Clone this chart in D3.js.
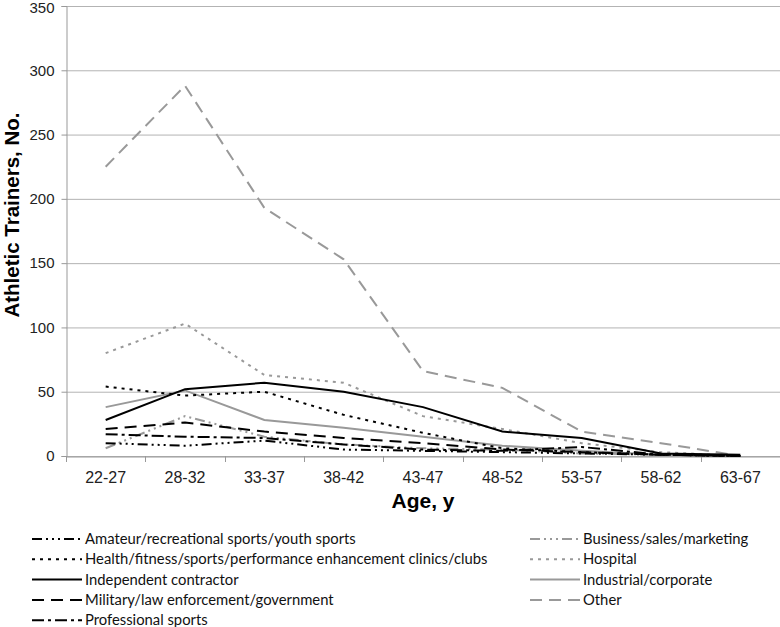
<!DOCTYPE html>
<html><head><meta charset="utf-8">
<script src="https://cdn.jsdelivr.net/npm/d3@7"></script>
<style>
body{margin:0;background:#fff;}
svg{display:block;}
</style></head>
<body>
<svg id="chart" width="780" height="627"></svg>
<script>
const ages = ["22-27","28-32","33-37","38-42","43-47","48-52","53-57","58-62","63-67"];
const yTicks = [0,50,100,150,200,250,300,350];
const amateur      = [10, 8, 12, 5, 4, 3, 2, 1, 0];
const business     = [6, 31, 15, 9, 6, 5, 2, 1, 0];
const health       = [54, 47, 50, 32, 18, 6, 3, 1, 0];
const hospital     = [80, 103, 63, 57, 31, 21, 10, 3, 0];
const independent  = [28, 52, 57, 50, 38, 19, 14, 2, 1];
const industrial   = [38, 51, 28, 22, 15, 8, 4, 1, 0];
const military     = [21, 26, 19, 14, 10, 5, 3, 1, 0];
const other        = [225, 288, 193, 153, 66, 53, 19, 10, 0];
const professional = [17, 15, 14, 9, 5, 4, 7, 1, 0];

const seriesNames = ["Amateur/recreational sports/youth sports","Business/sales/marketing",
  "Health/fitness/sports/performance enhancement clinics/clubs","Hospital",
  "Independent contractor","Industrial/corporate",
  "Military/law enforcement/government","Other","Professional sports"];
const seriesValues = [amateur,business,health,hospital,independent,industrial,military,other,professional];
const BLACK="#000", GRAY="#999";
const styles = [
  {c:BLACK, d:"10,4,2,4,2,4,2,4"},
  {c:GRAY,  d:"10,4,2,4,2,4,2,4"},
  {c:BLACK, d:"3,5"},
  {c:GRAY,  d:"3,5"},
  {c:BLACK, d:null},
  {c:GRAY,  d:null},
  {c:BLACK, d:"12,7"},
  {c:GRAY,  d:"12,7"},
  {c:BLACK, d:"12,4,3,4"}
];

const svg = d3.select("#chart");
const L=66, R=780, T=6, B=456;
const FONT="'Liberation Sans',Arial,sans-serif";
const x = d3.scaleBand().domain(ages).range([L,R]).padding(0);
const y = d3.scaleLinear().domain([0,350]).range([B,T]);

// gridlines
svg.append("g").selectAll("line").data(yTicks).join("line")
  .attr("x1",L).attr("x2",R).attr("y1",d=>y(d)+0.5).attr("y2",d=>y(d)+0.5)
  .attr("stroke","#b3b3b3").attr("stroke-width",1);

// y axis
const yAxis = svg.append("g").attr("transform",`translate(${L+0.5},0)`)
  .call(d3.axisLeft(y).tickValues(yTicks).tickSize(5).tickPadding(7));
yAxis.select(".domain").attr("stroke","#999");
yAxis.selectAll(".tick line").attr("stroke","#999");
yAxis.selectAll("text").attr("font-family",FONT).attr("font-size",15).attr("fill","#222")
  .attr("dy",(d)=> d===350 ? "0.42em" : "0.32em");

// x axis
const xAxis = svg.append("g").attr("transform",`translate(0,${B+0.5})`)
  .call(d3.axisBottom(x).tickSize(0).tickPadding(15));
xAxis.select(".domain").attr("stroke","#999");
xAxis.selectAll("text").attr("font-family",FONT).attr("font-size",16).attr("fill","#222");
// tick marks at band boundaries
const bounds = ages.map(a=>x(a)).concat([R]);
svg.append("g").selectAll("line").data(bounds).join("line")
  .attr("x1",d=>Math.round(d)+0.5).attr("x2",d=>Math.round(d)+0.5)
  .attr("y1",B).attr("y2",B+6).attr("stroke","#999");

// axis titles
svg.append("text").attr("transform",`translate(19,215) rotate(-90)`)
  .attr("text-anchor","middle").attr("font-family",FONT)
  .attr("font-weight","bold").attr("font-size",20.5).text("Athletic Trainers, No.");
svg.append("text").attr("x",423).attr("y",508)
  .attr("text-anchor","middle").attr("font-family",FONT)
  .attr("font-weight","bold").attr("font-size",21).text("Age, y");

// lines
const line = d3.line().x((d,i)=>x(ages[i])+x.bandwidth()/2).y(d=>y(d));
const order = [7,3,5,1,0,2,4,6,8];
order.forEach(i=>{
  svg.append("path").datum(seriesValues[i]).attr("d",line)
    .attr("fill","none").attr("stroke",styles[i].c).attr("stroke-width",2)
    .attr("stroke-dasharray",styles[i].d);
});

// legend
const lg = svg.append("g");
seriesNames.forEach((n,i)=>{
  const col = i%2, row = Math.floor(i/2);
  const lx = col===0 ? 32 : 530;
  const ly = 539 + row*20.3;
  lg.append("line").attr("x1",lx).attr("x2",lx+50).attr("y1",ly).attr("y2",ly)
    .attr("stroke",styles[i].c).attr("stroke-width",2).attr("stroke-dasharray",styles[i].d);
  lg.append("text").attr("x",lx+53).attr("y",ly).attr("dy","0.35em")
    .attr("font-family","Lato,'Open Sans',sans-serif").attr("font-size",14.8).attr("fill","#111").text(n);
});
</script>
</body></html>
